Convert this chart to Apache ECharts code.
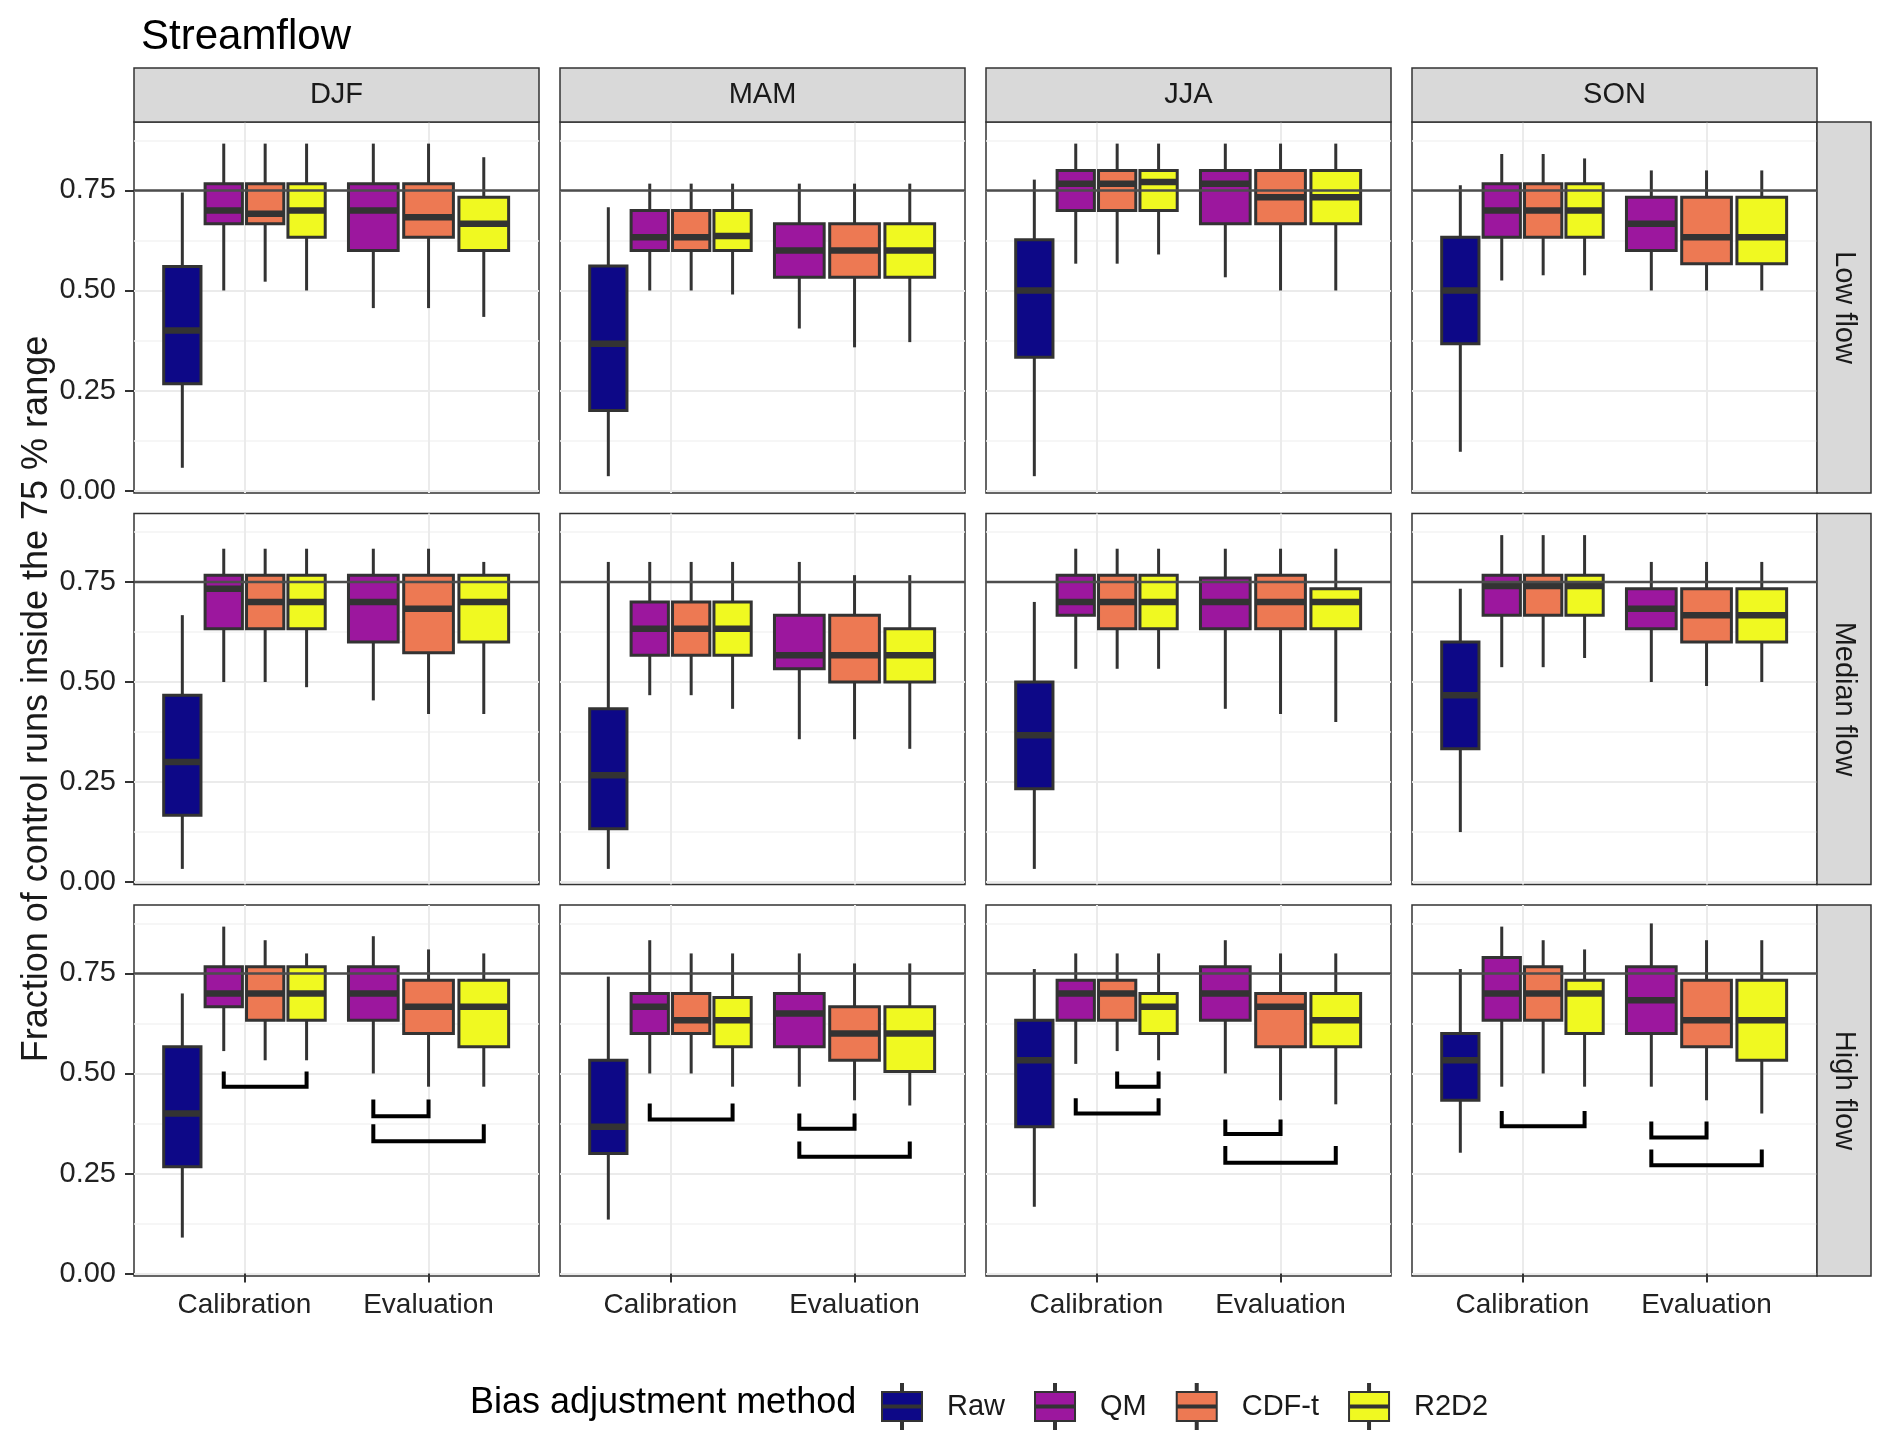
<!DOCTYPE html>
<html><head><meta charset="utf-8">
<script src="https://cdn.jsdelivr.net/npm/echarts@6/dist/echarts.min.js"></script>
<style>html,body{margin:0;padding:0;background:#fff}#chart{width:1892px;height:1445px}</style>
</head><body><div id="chart"></div>
<script>
// ---------- DATA ----------
const seasons = ['DJF', 'MAM', 'JJA', 'SON'];
const flows = ['Low flow', 'Median flow', 'High flow'];
const methods = ['Raw', 'QM', 'CDF-t', 'R2D2'];
const periods = ['Calibration', 'Evaluation'];
const yTicks = [0, 0.25, 0.5, 0.75];
const yMinorTicks = [0.125, 0.375, 0.625, 0.875];
const threshold = 0.75;
// box order: Raw, QM, CDF-t, R2D2 (Calibration), QM, CDF-t, R2D2 (Evaluation)
const boxOrder = [['Raw', 0], ['QM', 0], ['CDF-t', 0], ['R2D2', 0], ['QM', 1], ['CDF-t', 1], ['R2D2', 1]];
// each box: [min, q1, median, q3, max]
const DJF_low = [[0.057,0.267,0.4,0.56,0.745],[0.5,0.667,0.7,0.767,0.867],[0.522,0.667,0.692,0.767,0.867],[0.5,0.633,0.7,0.767,0.867],[0.456,0.6,0.7,0.767,0.867],[0.456,0.633,0.683,0.767,0.867],[0.434,0.6,0.667,0.733,0.833]];
const MAM_low = [[0.036,0.2,0.367,0.561,0.708],[0.5,0.6,0.633,0.7,0.767],[0.5,0.6,0.633,0.7,0.767],[0.49,0.6,0.636,0.7,0.767],[0.405,0.533,0.6,0.667,0.767],[0.358,0.533,0.6,0.667,0.767],[0.371,0.533,0.6,0.667,0.767]];
const JJA_low = [[0.036,0.333,0.5,0.627,0.777],[0.567,0.7,0.767,0.8,0.867],[0.567,0.7,0.767,0.8,0.867],[0.59,0.7,0.771,0.8,0.867],[0.533,0.667,0.767,0.8,0.867],[0.5,0.667,0.733,0.8,0.867],[0.5,0.667,0.733,0.8,0.867]];
const SON_low = [[0.097,0.367,0.5,0.633,0.763],[0.525,0.633,0.7,0.767,0.841],[0.538,0.633,0.7,0.767,0.841],[0.538,0.633,0.7,0.767,0.83],[0.5,0.6,0.667,0.733,0.8],[0.5,0.567,0.633,0.733,0.8],[0.5,0.567,0.633,0.733,0.8]];
const DJF_med = [[0.033,0.167,0.3,0.467,0.667],[0.5,0.633,0.733,0.767,0.833],[0.5,0.633,0.7,0.767,0.833],[0.487,0.633,0.7,0.767,0.833],[0.454,0.6,0.7,0.767,0.833],[0.42,0.573,0.683,0.767,0.833],[0.42,0.6,0.7,0.767,0.8]];
const MAM_med = [[0.033,0.133,0.267,0.433,0.8],[0.467,0.567,0.633,0.7,0.8],[0.467,0.567,0.633,0.7,0.8],[0.433,0.567,0.633,0.7,0.8],[0.357,0.533,0.567,0.667,0.8],[0.357,0.5,0.567,0.667,0.767],[0.333,0.5,0.567,0.633,0.767]];
const JJA_med = [[0.033,0.233,0.367,0.5,0.7],[0.533,0.667,0.7,0.767,0.833],[0.533,0.633,0.7,0.767,0.833],[0.533,0.633,0.7,0.767,0.833],[0.433,0.633,0.7,0.76,0.833],[0.42,0.633,0.7,0.767,0.833],[0.4,0.633,0.7,0.733,0.833]];
const SON_med = [[0.125,0.333,0.467,0.6,0.733],[0.537,0.667,0.74,0.767,0.867],[0.537,0.667,0.74,0.767,0.867],[0.56,0.667,0.74,0.767,0.867],[0.5,0.633,0.683,0.733,0.8],[0.49,0.6,0.667,0.733,0.8],[0.5,0.6,0.667,0.733,0.8]];
const DJF_high = [[0.09,0.267,0.4,0.567,0.7],[0.556,0.667,0.7,0.767,0.867],[0.533,0.633,0.7,0.767,0.833],[0.533,0.633,0.7,0.767,0.8],[0.5,0.633,0.7,0.767,0.843],[0.467,0.6,0.667,0.733,0.81],[0.467,0.567,0.667,0.733,0.8]];
const MAM_high = [[0.135,0.3,0.367,0.533,0.742],[0.5,0.6,0.667,0.7,0.833],[0.5,0.6,0.633,0.7,0.8],[0.467,0.567,0.633,0.69,0.8],[0.467,0.567,0.65,0.7,0.8],[0.433,0.533,0.6,0.667,0.775],[0.42,0.505,0.6,0.667,0.775]];
const JJA_high = [[0.167,0.367,0.533,0.633,0.761],[0.524,0.633,0.7,0.733,0.8],[0.556,0.633,0.7,0.733,0.8],[0.533,0.6,0.667,0.7,0.8],[0.5,0.633,0.7,0.767,0.833],[0.433,0.567,0.667,0.7,0.8],[0.423,0.567,0.633,0.7,0.8]];
const SON_high = [[0.302,0.433,0.533,0.6,0.761],[0.467,0.633,0.7,0.79,0.867],[0.5,0.633,0.7,0.767,0.833],[0.467,0.6,0.7,0.733,0.81],[0.467,0.6,0.683,0.767,0.875],[0.433,0.567,0.633,0.733,0.833],[0.4,0.533,0.633,0.733,0.833]];
// significance brackets (High flow row): [period, from method, to method, bar level, tip level]
const DJF_brackets = [['Calibration','QM','R2D2',0.467,0.505],['Evaluation','QM','CDF-t',0.393,0.435],['Evaluation','QM','R2D2',0.331,0.373]];
const MAM_brackets = [['Calibration','QM','R2D2',0.385,0.425],['Evaluation','QM','CDF-t',0.362,0.4],['Evaluation','QM','R2D2',0.292,0.33]];
const JJA_brackets = [['Calibration','CDF-t','R2D2',0.467,0.505],['Calibration','QM','R2D2',0.4,0.438],['Evaluation','QM','CDF-t',0.349,0.385],['Evaluation','QM','R2D2',0.277,0.319]];
const SON_brackets = [['Calibration','QM','R2D2',0.368,0.406],['Evaluation','QM','CDF-t',0.34,0.38],['Evaluation','QM','R2D2',0.271,0.31]];

const panelData = {DJF:[DJF_low,DJF_med,DJF_high], MAM:[MAM_low,MAM_med,MAM_high], JJA:[JJA_low,JJA_med,JJA_high], SON:[SON_low,SON_med,SON_high]};
const bracketData = {DJF:DJF_brackets, MAM:MAM_brackets, JJA:JJA_brackets, SON:SON_brackets};

// ---------- STYLE / LAYOUT ----------
const colors = {'Raw':'#0d0887','QM':'#9c179e','CDF-t':'#ed7953','R2D2':'#f0f921'};
const FONT = '"Liberation Sans", Arial, Helvetica, sans-serif';
const L = {left0:134, colStep:426, w:405, top0:122, rowStep:391.5, h:371, strip:54};
const X_MIN = 0.4, X_MAX = 2.6, Y_MIN = -0.006, Y_MAX = 0.921;
const DODGE = 0.9;

function dodgePos(method, p) {
  const present = boxOrder.filter(b => b[1] === p).map(b => b[0]);
  const n = present.length, k = present.indexOf(method);
  const slot = DODGE / n;
  return {x: (p + 1) + (k - (n - 1) / 2) * slot, w: slot * 0.9};
}

const grids = [], xAxes = [], yAxes = [], series = [], graphics = [];
flows.forEach((flow, r) => {
  seasons.forEach((season, c) => {
    const gi = r * 4 + c;
    const left = L.left0 + c * L.colStep, top = L.top0 + r * L.rowStep;
    grids.push({left, top, width: L.w, height: L.h, show: true, borderColor: '#333', borderWidth: 1.5, backgroundColor: '#fff'});
    xAxes.push({
      type: 'value', gridIndex: gi, min: X_MIN, max: X_MAX,
      axisLine: {show: false},
      axisTick: {show: r === 2, customValues: [1, 2], length: 9, lineStyle: {color: '#333', width: 2}},
      axisLabel: {show: r === 2, customValues: [1, 2], formatter: v => periods[Math.round(v) - 1] || '', fontSize: 28, color: '#222', fontFamily: FONT, margin: 15},
      splitLine: {show: true, lineStyle: {color: '#ebebeb', width: 2}}
    });
    yAxes.push({
      type: 'value', gridIndex: gi, min: Y_MIN, max: Y_MAX,
      axisLine: {show: false},
      axisTick: {show: c === 0, customValues: yTicks, length: 9, lineStyle: {color: '#333', width: 2}},
      axisLabel: {show: c === 0, customValues: yTicks, formatter: v => v.toFixed(2), fontSize: 29, color: '#222', fontFamily: FONT, margin: 18},
      splitLine: {show: true, lineStyle: {color: '#ebebeb', width: 2}},
      name: (r === 1 && c === 0) ? 'Fraction of control runs inside the 75 % range' : '',
      nameLocation: 'middle', nameGap: 79,
      nameTextStyle: {fontSize: 36, color: '#1a1a1a', fontFamily: FONT}
    });
    // minor grid axis
    yAxes.push({
      type: 'value', gridIndex: gi, min: Y_MIN, max: Y_MAX,
      axisLine: {show: false},
      axisTick: {show: false, customValues: yMinorTicks},
      axisLabel: {show: false, customValues: yMinorTicks},
      splitLine: {show: true, lineStyle: {color: '#f3f3f3', width: 1.5}}
    });
    const yi = yAxes.length - 2;
    const rows = panelData[season][r];
    methods.forEach(m => {
      const data = [];
      boxOrder.forEach((b, i) => {
        if (b[0] !== m) return;
        const pos = dodgePos(m, b[1]);
        data.push([pos.x, pos.w].concat(rows[i]));
      });
      series.push({
        type: 'custom', name: m, xAxisIndex: gi, yAxisIndex: yi, z: 2,
        itemStyle: {color: colors[m]},
        encode: {x: 0, y: [2, 3, 4, 5, 6]},
        data,
        renderItem: (params, api) => {
          const x = api.value(0), w = api.value(1);
          const pMin = api.coord([x, api.value(2)]), pQ1 = api.coord([x, api.value(3)]);
          const pMed = api.coord([x, api.value(4)]), pQ3 = api.coord([x, api.value(5)]);
          const pMax = api.coord([x, api.value(6)]);
          const xl = api.coord([x - w / 2, 0])[0], xr = api.coord([x + w / 2, 0])[0];
          const cx = pMin[0];
          const lw = {stroke: '#333', lineWidth: 3};
          return {type: 'group', children: [
            {type: 'line', shape: {x1: cx, y1: pMax[1], x2: cx, y2: pQ3[1]}, style: lw},
            {type: 'line', shape: {x1: cx, y1: pQ1[1], x2: cx, y2: pMin[1]}, style: lw},
            {type: 'rect', shape: {x: xl, y: pQ3[1], width: xr - xl, height: pQ1[1] - pQ3[1]}, style: {fill: api.visual('color'), stroke: '#333', lineWidth: 3}},
            {type: 'line', shape: {x1: xl, y1: pMed[1], x2: xr, y2: pMed[1]}, style: {stroke: '#333', lineWidth: 6.5}}
          ]};
        }
      });
    });
    // reference line at 0.75
    series.push({
      type: 'custom', name: 'ref', xAxisIndex: gi, yAxisIndex: yi, z: 5, silent: true,
      data: [[threshold]],
      renderItem: (params, api) => {
        const a = api.coord([X_MIN, api.value(0)]), b = api.coord([X_MAX, api.value(0)]);
        return {type: 'line', shape: {x1: a[0], y1: a[1], x2: b[0], y2: b[1]}, style: {stroke: '#4d4d4d', lineWidth: 2.5}};
      }
    });
    if (r === 2) {
      const bd = bracketData[season].map(b => {
        const p = periods.indexOf(b[0]);
        return [dodgePos(b[1], p).x, dodgePos(b[2], p).x, b[3], b[4]];
      });
      series.push({
        type: 'custom', name: 'brackets', xAxisIndex: gi, yAxisIndex: yi, z: 6, silent: true,
        data: bd,
        renderItem: (params, api) => {
          const x1 = api.value(0), x2 = api.value(1), lo = api.value(2), hi = api.value(3);
          const pts = [api.coord([x1, hi]), api.coord([x1, lo]), api.coord([x2, lo]), api.coord([x2, hi])];
          return {type: 'polyline', shape: {points: pts}, style: {stroke: '#000', lineWidth: 4, fill: null, lineJoin: 'miter'}};
        }
      });
    }
    // strips
    if (r === 0) {
      graphics.push({type: 'rect', shape: {x: left, y: top - L.strip, width: L.w, height: L.strip}, style: {fill: '#d9d9d9', stroke: '#333', lineWidth: 1.5}, z: 1});
      graphics.push({type: 'text', x: left + L.w / 2, y: top - L.strip / 2, style: {text: season, fontSize: 29, fill: '#1a1a1a', fontFamily: FONT, align: 'center', verticalAlign: 'middle'}, z: 2});
    }
    if (c === 3) {
      const sx = left + L.w;
      graphics.push({type: 'rect', shape: {x: sx, y: top, width: L.strip, height: L.h}, style: {fill: '#d9d9d9', stroke: '#333', lineWidth: 1.5}, z: 1});
      graphics.push({type: 'text', x: sx + L.strip / 2, y: top + L.h / 2, rotation: -Math.PI / 2, style: {text: flow, fontSize: 29, fill: '#1a1a1a', fontFamily: FONT, align: 'center', verticalAlign: 'middle'}, z: 2});
    }
  });
});

const chart = echarts.init(document.getElementById('chart'), null, {renderer: 'canvas'});
chart.setOption({
  animation: false,
  backgroundColor: '#fff',
  title: [
    {text: 'Streamflow', left: 136, top: 11, textStyle: {fontSize: 42, fontWeight: 'normal', color: '#000', fontFamily: FONT}},
    {text: 'Bias adjustment method', left: 465, top: 1380, textStyle: {fontSize: 36, fontWeight: 'normal', color: '#000', fontFamily: FONT}}
  ],
  legend: {
    data: methods, left: 876, top: 1378, orient: 'horizontal',
    itemWidth: 44, itemHeight: 45, itemGap: 29, selectedMode: false,
    icon: 'path://M21,0 h2 v8 h-2 Z M2,8 h40 v29 h-40 Z M2,21.5 h40 v2 h-40 Z M21,37 h2 v8 h-2 Z',
    itemStyle: {borderColor: '#333', borderWidth: 2},
    textStyle: {fontSize: 29, color: '#1a1a1a', fontFamily: FONT, padding: [0, 0, 0, 18]}
  },
  grid: grids, xAxis: xAxes, yAxis: yAxes, series,
  graphic: graphics
});
</script></body></html>
